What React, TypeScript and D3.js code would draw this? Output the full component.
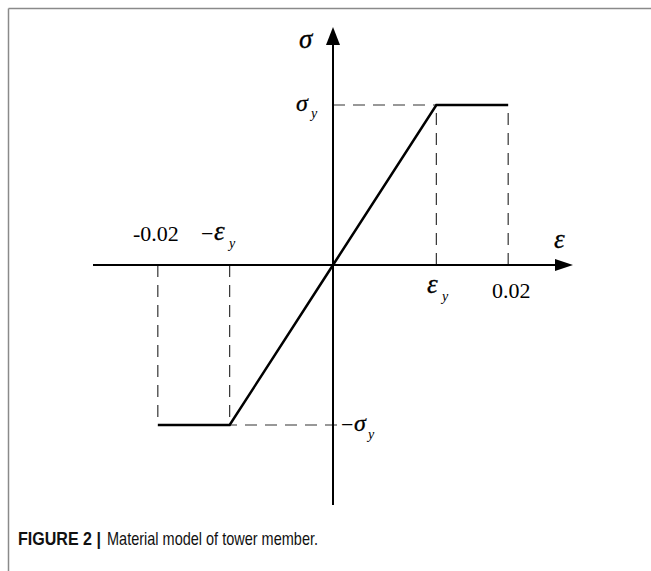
import React from "react";
import * as d3 from "d3";

const strain = [-0.02, -0.0118, 0, 0.0118, 0.02];
const stress = [-1, -1, 0, 1, 1];
const xTickValues = [-0.02, -0.0118, 0.0118, 0.02];
const xDomain = [-0.0274, 0.0274];
const yDomain = [-1.5, 1.4875];
const captionLabel = "FIGURE 2 |";
const captionText = "Material model of tower member.";

const W = 651;
const H = 571;

export default function App() {
  const x = d3.scaleLinear().domain(xDomain).range([93, 573]);
  const y = d3.scaleLinear().domain(yDomain).range([505, 27]);
  const x0 = x(0);
  const y0 = y(0);
  const line = d3
    .line<number>()
    .x((_, i) => x(strain[i]))
    .y((d) => y(d));
  const serif = "'Liberation Serif', 'Times New Roman', serif";
  const sans = "'Liberation Sans', Arial, sans-serif";
  const dash = "12,8";
  const dashColor = "#333";
  const greek = { fontStyle: "italic" as const, stroke: "#000", strokeWidth: 0.3 };

  return (
    <svg
      width={W}
      height={H}
      style={{ position: "absolute", left: 0, top: 0, background: "#fff" }}
    >
      {/* frame */}
      <line x1={8.5} y1={8.5} x2={W} y2={8.5} stroke="#8a8a8a" strokeWidth={1.5} />
      <line x1={8.5} y1={8.5} x2={8.5} y2={H} stroke="#8a8a8a" strokeWidth={1.5} />

      {/* dashed guides */}
      {xTickValues.map((v, i) => {
        const yy = v < 0 ? y(-1) : y(1);
        return (
          <line
            key={i}
            x1={x(v)}
            x2={x(v)}
            y1={y0}
            y2={yy}
            stroke={dashColor}
            strokeWidth={1.2}
            strokeDasharray={dash}
          />
        );
      })}
      <line x1={x0} x2={x(strain[3])} y1={y(1)} y2={y(1)} stroke={dashColor} strokeWidth={1.2} strokeDasharray={dash} />
      <line x1={x0 + 4} x2={x(strain[1])} y1={y(-1)} y2={y(-1)} stroke={dashColor} strokeWidth={1.2} strokeDasharray={dash} />

      {/* axes */}
      <line x1={x(xDomain[0])} x2={x(xDomain[1]) - 12} y1={y0} y2={y0} stroke="#000" strokeWidth={2} />
      <line x1={x0} x2={x0} y1={y(yDomain[0])} y2={y(yDomain[1]) + 12} stroke="#000" strokeWidth={2} />
      <path
        d={`M${x(xDomain[1])},${y0} L${x(xDomain[1]) - 18},${y0 - 6} L${x(xDomain[1]) - 18},${y0 + 6} Z`}
        fill="#000"
      />
      <path
        d={`M${x0},${y(yDomain[1])} L${x0 - 7},${y(yDomain[1]) + 18} L${x0 + 7},${y(yDomain[1]) + 18} Z`}
        fill="#000"
      />

      {/* material curve */}
      <path d={line(stress) || ""} fill="none" stroke="#000" strokeWidth={2.5} strokeLinejoin="miter" />

      {/* labels */}
      <g fontFamily={serif} fill="#000">
        <text x={299} y={48} fontSize={27} {...greek}>σ</text>
        <text x={296} y={y(1) + 6} fontSize={24} {...greek}>σ</text>
        <text x={311} y={y(1) + 13} fontSize={14} fontStyle="italic">y</text>

        <text x={554} y={248} fontSize={27} {...greek}>ε</text>

        <text x={x(-0.02) - 2} y={241} fontSize={22} textAnchor="middle">-0.02</text>
        <text x={201} y={241} fontSize={22}>−</text>
        <text x={214} y={240} fontSize={27} {...greek}>ε</text>
        <text x={229} y={248} fontSize={14} fontStyle="italic">y</text>

        <text x={427} y={293} fontSize={27} {...greek}>ε</text>
        <text x={442} y={301} fontSize={14} fontStyle="italic">y</text>
        <text x={x(0.02) + 3} y={298} fontSize={22} textAnchor="middle">0.02</text>

        <text x={341} y={y(-1) + 7} fontSize={22}>−</text>
        <text x={354} y={y(-1) + 6} fontSize={24} {...greek}>σ</text>
        <text x={368} y={y(-1) + 14} fontSize={14} fontStyle="italic">y</text>
      </g>

      {/* caption */}
      <text
        x={18}
        y={545}
        fontFamily={sans}
        fontSize={18.5}
        fontWeight="bold"
        fill="#111"
        textLength={83}
        lengthAdjust="spacingAndGlyphs"
      >
        {captionLabel}
      </text>
      <text
        x={107}
        y={545}
        fontFamily={sans}
        fontSize={18.5}
        fill="#111"
        textLength={211}
        lengthAdjust="spacingAndGlyphs"
      >
        {captionText}
      </text>
    </svg>
  );
}
